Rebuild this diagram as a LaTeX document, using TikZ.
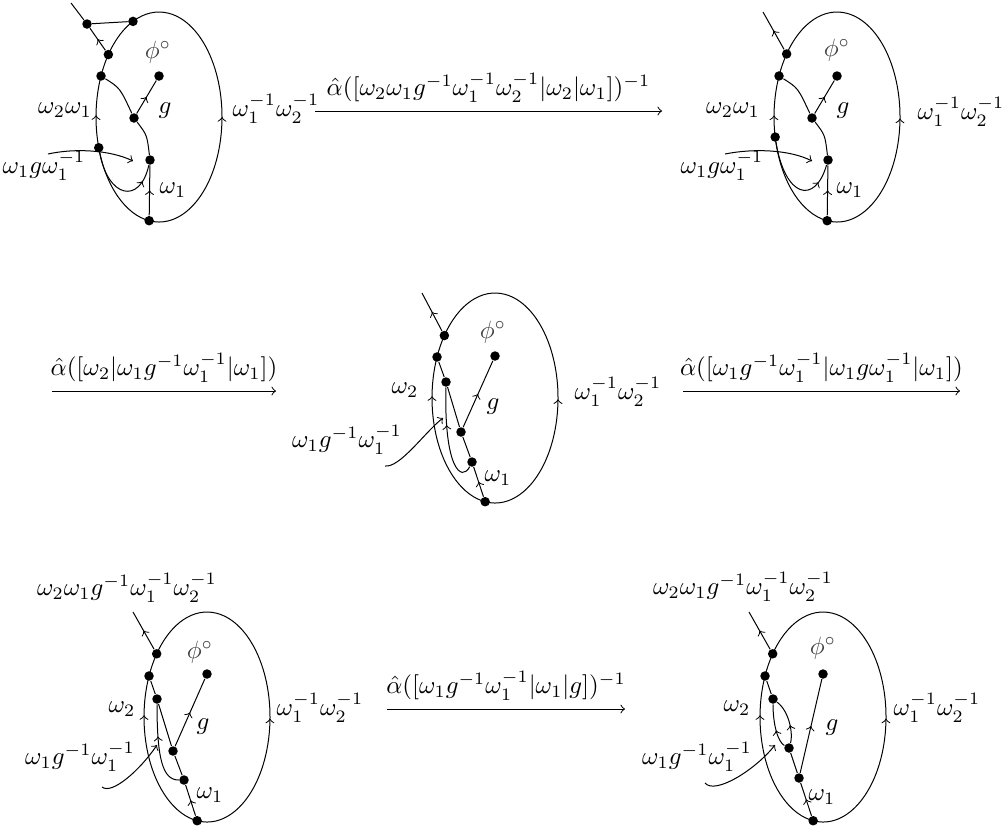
\documentclass[tikz,border=0pt]{standalone}
\usetikzlibrary{calc,decorations.markings}

\begin{document}
\begin{tikzpicture}[
    x=0.4pt, y=-0.4pt,
    >=to,
    dot/.style={circle, fill=black, inner sep=0pt, minimum size=3.8pt},
    midarrow/.style={postaction={decorate}, decoration={markings, mark=at position #1 with {\arrow{to}}}},
    midarrow/.default=0.5,
    rim/.style={x radius=63, y radius=105},
    face/.style={text=black!75},
    map/.style={->}
]
\useasboundingbox (0,0) rectangle (1004,828);

% top left
\coordinate (o1) at (159,117);
\coordinate (t1) at (71,3);
\node[dot] (A1) at (87,24) {};
\node[dot] (B1) at ($(o1)+(245.6:63 and 105)$) {};
\node[dot] (C1) at ($(o1)+(216.5:63 and 105)$) {};
\node[dot] (D1) at ($(o1)+(203:63 and 105)$) {};
\node[dot] (G1) at ($(o1)+(163:63 and 105)$) {};
\node[dot] (I1) at ($(o1)+(99:63 and 105)$) {};
\node[dot] (E1) at (159,76) {};
\node[dot] (F1) at (134,118) {};
\node[dot] (H1) at (150,160) {};

\draw[midarrow=.47] (I1.center) arc[start angle=99, end angle=-114.4, rim];
\draw (I1.center) arc[start angle=99, end angle=163, rim];
\draw[midarrow=.45] (G1.center) arc[start angle=163, end angle=203, rim];
\draw (D1.center) arc[start angle=203, end angle=245.6, rim];
\draw (t1) -- (A1);
\draw (A1) -- (B1);
\draw[midarrow] (C1) -- (A1);
\draw (D1) .. controls (120,88) .. (F1);
\draw[midarrow] (F1) -- (E1);
\draw (F1) .. controls (147,135) .. (H1);
\draw[midarrow] (I1) -- (H1);
\draw[midarrow=.8] (G1) .. controls (108,198) and (140,205) .. (H1);
\coordinate (s1) at (48,154);
\coordinate (r1) at (133,161);
\draw[->] (s1) .. controls (75,148) and (110,150) .. (r1);

\node[face] (phi1) at (158,52) {$\phi^\circ$};
\node (g1) at (165,111) {$g$};
\node (w1) at (173,190) {$\omega_1$};
\node (l1) at (65,110) {$\omega_2\omega_1$};
\node (k1) at (44,166) {$\omega_1g\omega_1^{-1}$};
\node (q1) at (276,109) {$\omega_1^{-1}\omega_2^{-1}$};

\coordinate (m1s) at (315,111);
\coordinate (m1t) at (662,111);
\draw[map] (m1s) -- node[above] {$\hat\alpha([\omega_2\omega_1g^{-1}\omega_1^{-1}\omega_2^{-1}|\omega_2|\omega_1])^{-1}$} (m1t);

% top right
\coordinate (o2) at (837,117);
\coordinate (t2) at (763,12);
\node[dot] (C2) at ($(o2)+(216.9:63 and 105)$) {};
\node[dot] (D2) at ($(o2)+(203:63 and 105)$) {};
\node[dot] (G2) at ($(o2)+(169:63 and 105)$) {};
\node[dot] (I2) at ($(o2)+(99:63 and 105)$) {};
\node[dot] (E2) at (837,76) {};
\node[dot] (F2) at (812,118) {};
\node[dot] (H2) at (828,160) {};

\draw[midarrow=.41] (I2.center) arc[start angle=99, end angle=-143.1, rim];
\draw (I2.center) arc[start angle=99, end angle=169, rim];
\draw[midarrow=.35] (G2.center) arc[start angle=169, end angle=203, rim];
\draw (D2.center) arc[start angle=203, end angle=216.9, rim];
\draw[midarrow] (C2) -- (t2);
\draw (D2) .. controls (798,88) .. (F2);
\draw[midarrow] (F2) -- (E2);
\draw (F2) .. controls (825,135) .. (H2);
\draw[midarrow] (I2) -- (H2);
\draw[midarrow=.8] (G2) .. controls (785,198) and (815,205) .. (H2);
\coordinate (s2) at (725,154);
\coordinate (r2) at (812,161);
\draw[->] (s2) .. controls (755,148) and (790,150) .. (r2);

\node[face] (phi2) at (837,50) {$\phi^\circ$};
\node (g2) at (843,111) {$g$};
\node (w2) at (850,190) {$\omega_1$};
\node (l2) at (733,110) {$\omega_2\omega_1$};
\node (k2) at (722,166) {$\omega_1g\omega_1^{-1}$};
\node (q2) at (961,112) {$\omega_1^{-1}\omega_2^{-1}$};

% middle
\coordinate (m2s) at (52,391);
\coordinate (m2t) at (276,391);
\draw[map] (m2s) -- node[above] {$\hat\alpha([\omega_2|\omega_1g^{-1}\omega_1^{-1}|\omega_1])$} (m2t);

\coordinate (o3) at (495,398);
\coordinate (t3) at (422,293);
\node[dot] (C3) at ($(o3)+(216.5:63 and 105)$) {};
\node[dot] (D3) at ($(o3)+(203:63 and 105)$) {};
\node[dot] (I3) at ($(o3)+(99:63 and 105)$) {};
\node[dot] (J3) at (446,382) {};
\node[dot] (E3) at (495,356) {};
\node[dot] (F3) at (461,432) {};
\node[dot] (H3) at (472,462) {};

\draw[midarrow=.41] (I3.center) arc[start angle=99, end angle=-143.5, rim];
\draw[midarrow=.76] (I3.center) arc[start angle=99, end angle=203, rim];
\draw (D3.center) arc[start angle=203, end angle=216.5, rim];
\draw[midarrow] (C3) -- (t3);
\draw (D3) -- (J3);
\draw (J3) -- (F3);
\draw (F3) -- (H3);
\draw[midarrow] (F3) -- (E3);
\draw[midarrow] (I3) -- (H3);
\draw[midarrow=.62] (H3) .. controls (462,482) and (444,470) .. (J3);
\coordinate (s3) at (385,466);
\coordinate (r3) at (443,418);
\draw[->] (s3) .. controls (400,468) and (425,432) .. (r3);

\node[face] (phi3) at (493,332) {$\phi^\circ$};
\node (g3) at (493,407) {$g$};
\node (w3) at (498,478) {$\omega_1$};
\node (l3) at (405,390) {$\omega_2$};
\node (k3) at (347,440) {$\omega_1g^{-1}\omega_1^{-1}$};
\node (q3) at (618,392) {$\omega_1^{-1}\omega_2^{-1}$};

\coordinate (m3s) at (683,391);
\coordinate (m3t) at (960,391);
\draw[map] (m3s) -- node[above] {$\hat\alpha([\omega_1g^{-1}\omega_1^{-1}|\omega_1g\omega_1^{-1}|\omega_1])$} (m3t);

% bottom left
\coordinate (o4) at (207,717);
\coordinate (t4) at (133,612);
\node[dot] (C4) at ($(o4)+(217:63 and 105)$) {};
\node[dot] (D4) at ($(o4)+(203:63 and 105)$) {};
\node[dot] (I4) at ($(o4)+(99:63 and 105)$) {};
\node[dot] (J4) at (157,699) {};
\node[dot] (E4) at (207,674) {};
\node[dot] (F4) at (173,751) {};
\node[dot] (H4) at (184,780) {};

\draw[midarrow=.41] (I4.center) arc[start angle=99, end angle=-143, rim];
\draw[midarrow=.76] (I4.center) arc[start angle=99, end angle=203, rim];
\draw (D4.center) arc[start angle=203, end angle=217, rim];
\draw[midarrow] (C4) -- (t4);
\draw (D4) -- (J4);
\draw (J4) -- (F4);
\draw (F4) -- (H4);
\draw[midarrow] (F4) -- (E4);
\draw[midarrow] (I4) -- (H4);
\draw[midarrow=.62] (H4) .. controls (163,780) and (157,760) .. (J4);
\coordinate (s4) at (102,787);
\coordinate (r4) at (157,745);
\draw[->] (s4) .. controls (112,795) and (140,770) .. (r4);

\node (top4) at (127,588) {$\omega_2\omega_1g^{-1}\omega_1^{-1}\omega_2^{-1}$};
\node[face] (phi4) at (200,652) {$\phi^\circ$};
\node (g4) at (203,727) {$g$};
\node (w4) at (210,795) {$\omega_1$};
\node (l4) at (122,709) {$\omega_2$};
\node (k4) at (80,757) {$\omega_1g^{-1}\omega_1^{-1}$};
\node (q4) at (320,708) {$\omega_1^{-1}\omega_2^{-1}$};

\coordinate (m4s) at (387,709);
\coordinate (m4t) at (625,709);
\draw[map] (m4s) -- node[above] {$\hat\alpha([\omega_1g^{-1}\omega_1^{-1}|\omega_1|g])^{-1}$} (m4t);

% bottom right
\coordinate (o5) at (823,717);
\coordinate (t5) at (749,612);
\node[dot] (C5) at ($(o5)+(217:63 and 105)$) {};
\node[dot] (D5) at ($(o5)+(203:63 and 105)$) {};
\node[dot] (I5) at ($(o5)+(99:63 and 105)$) {};
\node[dot] (J5) at (773,699) {};
\node[dot] (E5) at (823,674) {};
\node[dot] (K5) at (789,748) {};
\node[dot] (H5) at (799,778) {};

\draw[midarrow=.41] (I5.center) arc[start angle=99, end angle=-143, rim];
\draw[midarrow=.76] (I5.center) arc[start angle=99, end angle=203, rim];
\draw (D5.center) arc[start angle=203, end angle=217, rim];
\draw[midarrow] (C5) -- (t5);
\draw (D5) -- (J5);
\draw (K5) -- (H5);
\draw[midarrow] (H5) -- (E5);
\draw[midarrow] (I5) -- (H5);
\draw[midarrow=.4] (K5) .. controls (778,742) and (773,725) .. (J5);
\draw[midarrow=.4] (K5) .. controls (793,735) and (790,712) .. (J5);
\coordinate (s5) at (705,783);
\coordinate (r5) at (775,745);
\draw[->] (s5) .. controls (715,795) and (755,770) .. (r5);

\node (top5) at (743,587) {$\omega_2\omega_1g^{-1}\omega_1^{-1}\omega_2^{-1}$};
\node[face] (phi5) at (823,648) {$\phi^\circ$};
\node (g5) at (832,728) {$g$};
\node (w5) at (822,797) {$\omega_1$};
\node (l5) at (737,708) {$\omega_2$};
\node (k5) at (697,757) {$\omega_1g^{-1}\omega_1^{-1}$};
\node (q5) at (937,708) {$\omega_1^{-1}\omega_2^{-1}$};
\end{tikzpicture}
\end{document}
